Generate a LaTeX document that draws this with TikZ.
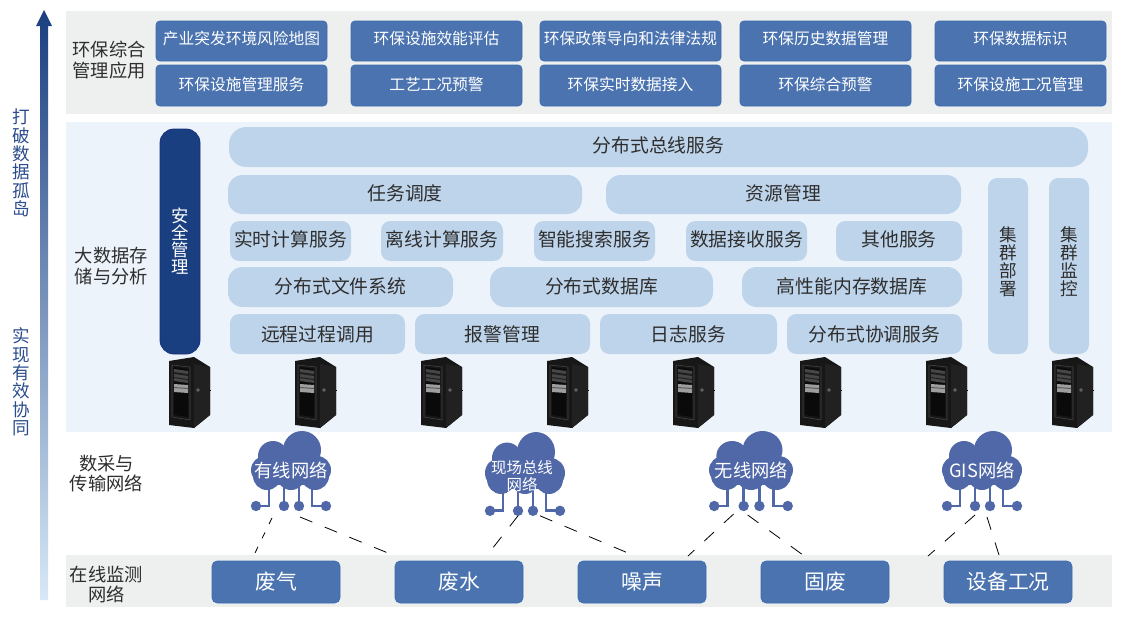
\documentclass[tikz,border=0pt]{standalone}
\usepackage{fontspec}
\setmainfont{Noto Sans CJK SC}
\usetikzlibrary{calc}
\definecolor{bandgray}{HTML}{EEEFEF}
\definecolor{bandblue}{HTML}{ECF3FB}
\definecolor{boxblue}{HTML}{4A73B0}
\definecolor{boxedge}{HTML}{3E6DB0}
\definecolor{paleblue}{HTML}{BED4EB}
\definecolor{navy}{HTML}{1A3F80}
\definecolor{navyedge}{HTML}{16307A}
\definecolor{cloudblue}{HTML}{5068A8}
\definecolor{sidetext}{HTML}{2A4C8C}
\definecolor{arrowend}{HTML}{D8E8F6}
\definecolor{arrowmid}{HTML}{7388B6}
\newcommand{\fsa}{\fontsize{11.8pt}{14pt}\selectfont}
\newcommand{\fsb}{\fontsize{14.1pt}{15pt}\selectfont}
\newcommand{\fsc}{\fontsize{15.6pt}{18pt}\selectfont}
\newcommand{\fsd}{\fontsize{13.7pt}{15.7pt}\selectfont}
\newcommand{\fse}{\fontsize{11.6pt}{12.8pt}\selectfont}
\newcommand{\fsv}{\fontsize{13.2pt}{13.75pt}\selectfont}
\newcommand{\upa}[1]{\raisebox{0.3pt}[10pt][2pt]{#1}}
\newcommand{\upb}[1]{\raisebox{1.5pt}[10pt][2pt]{#1}}
\newcommand{\upc}[1]{\raisebox{-0.5pt}[10pt][2pt]{#1}}
\newcommand{\upd}[1]{\raisebox{0pt}[10pt][2pt]{#1}}
% \bx[style]{name}{x1}{y1}{x2}{y2}{text}
\newcommand{\bx}[7][]{%
  \pgfmathsetmacro{\bw}{(#5-#3)*0.75}\pgfmathsetmacro{\bh}{(#6-#4)*0.75}%
  \node[#1,minimum width=\bw pt,minimum height=\bh pt] (#2) at ({(#3+#5)/2},{(#4+#6)/2}) {#7};}
\tikzset{
  x=0.75pt,y=-0.75pt,
  band/.style={inner sep=0pt,outer sep=0pt,draw=none},
  appbox/.style={inner sep=0pt,fill=boxblue,draw=boxedge,line width=0.6pt,rounded corners=3pt,text=white,font=\fsa},
  srcbox/.style={inner sep=0pt,fill=boxblue,draw=boxedge,line width=0.6pt,rounded corners=4pt,text=white,font=\fsc},
  palebox/.style={inner sep=0pt,fill=paleblue,text=black!82,font=\fsb},
  rsmall/.style={palebox,rounded corners=7pt},
  rmid/.style={palebox,rounded corners=11pt},
  rbig/.style={palebox,rounded corners=13pt},
  lab/.style={align=center,text=black!82,font=\fsd},
  sidelab/.style={align=center,text=sidetext,font=\fsv},
  foot/.style={circle,fill=cloudblue,inner sep=0pt,minimum size=7.8pt},
  wire/.style={draw=cloudblue,line width=2.2pt},
  dashline/.style={black,line width=0.6pt,dash pattern=on 10pt off 10pt},
  dashshort/.style={black,line width=0.6pt,dash pattern=on 5pt off 7pt},
  server/.pic={
    \fill[black!91] (-20,4) -- (5,0) -- (21,10) -- (21,58) -- (5,71) -- (-20,68) -- cycle;
    \fill[black!87] (5,7) -- (21,10) -- (21,58) -- (5,71) -- cycle;
    \draw[black!72,line width=0.4pt] (-17,8) -- (1,10) -- (1,63) -- (-17,60) -- cycle;
    \fill[black!96] (-15,10) -- (-1,12) -- (-1,60) -- (-15,58) -- cycle;
    \fill[black!72] (-15,12) -- (-1,14) -- (-1,26) -- (-15,24) -- cycle;
    \fill[black!88] (-15,15) -- (-1,17) -- (-1,19) -- (-15,17) -- cycle;
    \fill[black!88] (-15,20) -- (-1,22) -- (-1,23) -- (-15,21) -- cycle;
    \fill[black!38] (-15,27) -- (-1,28) -- (-1,36) -- (-15,35) -- cycle;
    \fill[black!65] (-15,30) -- (-1,31) -- (-1,32) -- (-15,31) -- cycle;
    \fill[black!25] (9,33) circle (1.6);
    \fill[black] (9,33) circle (0.9);
    \fill[black!98] (21,33) rectangle (22.2,33.6);
  },
  cloudpic/.pic={
    \fill[cloudblue] (11,-20) circle (19);
    \fill[cloudblue] (-18,-14) circle (15);
    \fill[cloudblue] (-26,0) circle (14);
    \fill[cloudblue] (26,0) circle (14);
    \fill[cloudblue] (-24,6) circle (14);
    \fill[cloudblue] (0,6) circle (14);
    \fill[cloudblue] (24,6) circle (14);
    \fill[cloudblue] (-26,-8) rectangle (26,15);
    \draw[wire] (-22,12) -- (-22,36) -- (-35,36);
    \draw[wire] (-7,12) -- (-7,36);
    \draw[wire] (8,12) -- (8,36);
    \draw[wire] (21,12) -- (21,36) -- (35,36);
    \node[foot] (f1) at (-35,36) {};
    \node[foot] (f2) at (-7,36) {};
    \node[foot] (f3) at (8,36) {};
    \node[foot] (f4) at (35,36) {};
  }
}
\begin{document}
\begin{tikzpicture}
\useasboundingbox (0,0) rectangle (1136,628);
\fill[white] (0,0) rectangle (1136,628);
% bands
\bx[band,fill=bandgray]{bandA}{66}{11}{1112}{114}{}
\bx[band,fill=bandblue]{bandB}{66}{122}{1112}{432}{}
\bx[band,fill=bandgray]{bandC}{66}{555}{1112}{607}{}
% arrow
\shade[top color=navy,middle color=arrowmid,bottom color=arrowend]
  (40,600) -- (40,26) -- (36,26) -- (44,10) -- (52,26) -- (48,26) -- (48,600) -- cycle;
% side text
\node[sidelab] (sideA) at (21,163) {打\\破\\数\\据\\孤\\岛};
\node[sidelab] (sideB) at (21,382) {实\\现\\有\\效\\协\\同};
% layer labels
\node[lab] (labA) at (109,60.5) {环保综合\\管理应用};
\node[lab] (labB) at (111.5,266.5) {大数据存\\储与分析};
\node[lab,font=\fontsize{13.7pt}{15pt}\selectfont] (labC) at (106.5,473.5) {数采与\\传输网络};
\node[lab,font=\fontsize{13.7pt}{15pt}\selectfont] (labD) at (106.5,585) {在线监测\\网络};
% application boxes
\bx[appbox]{a1}{156}{21}{327}{61}{\upb{产业突发环境风险地图}}
\bx[appbox]{a2}{351}{21}{522}{61}{\upb{环保设施效能评估}}
\bx[appbox]{a3}{540}{21}{721}{61}{\upb{环保政策导向和法律法规}}
\bx[appbox]{a4}{740}{21}{911}{61}{\upb{环保历史数据管理}}
\bx[appbox]{a5}{935}{21}{1106}{61}{\upb{环保数据标识}}
\bx[appbox]{b1}{156}{65}{327}{106}{\upa{环保设施管理服务}}
\bx[appbox]{b2}{351}{65}{522}{106}{\upa{工艺工况预警}}
\bx[appbox]{b3}{540}{65}{721}{106}{\upa{环保实时数据接入}}
\bx[appbox]{b4}{740}{65}{911}{106}{\upa{环保综合预警}}
\bx[appbox]{b5}{935}{65}{1106}{106}{\upa{环保设施工况管理}}
% big-data layer
\bx[fill=navy,draw=navyedge,line width=0.6pt,rounded corners=10.5pt,inner sep=0pt]{sec}{160}{129}{200}{354}{}
\node[text=white,align=center,font=\fontsize{13pt}{12.8pt}\selectfont] (sect) at (180,241) {安\\全\\管\\理};
\bx[rbig]{bus}{229}{127}{1088}{167}{\upd{分布式总线服务}}
\bx[rmid]{sched}{228}{175}{582}{214}{\upc{任务调度}}
\bx[rmid]{res}{606}{175}{961}{214}{\upc{资源管理}}
\bx[rsmall]{s1}{230}{221}{351}{261}{\upd{实时计算服务}}
\bx[rsmall]{s2}{381}{221}{503}{261}{\upd{离线计算服务}}
\bx[rsmall]{s3}{534}{221}{655}{261}{\upd{智能搜索服务}}
\bx[rsmall]{s4}{686}{221}{807}{261}{\upd{数据接收服务}}
\bx[rsmall]{s5}{836}{221}{962}{261}{\upd{其他服务}}
\bx[rmid]{d1}{228}{267}{453}{307}{\upc{分布式文件系统}}
\bx[rmid]{d2}{490}{267}{713}{307}{\upc{分布式数据库}}
\bx[rmid]{d3}{742}{267}{962}{307}{\upc{高性能内存数据库}}
\bx[rsmall]{u1}{230}{314}{405}{354}{远程过程调用}
\bx[rsmall]{u2}{415}{314}{590}{354}{报警管理}
\bx[rsmall]{u3}{600}{314}{777}{354}{日志服务}
\bx[rsmall]{u4}{787}{314}{962}{354}{分布式协调服务}
\bx[rsmall]{dep}{988}{178}{1028}{354}{}
\bx[rsmall]{mon}{1049}{178}{1089}{354}{}
\node[align=center,text=black!82,font=\fontsize{13.2pt}{13.6pt}\selectfont] (dept) at (1008,262) {集\\群\\部\\署};
\node[align=center,text=black!82,font=\fontsize{13.2pt}{13.6pt}\selectfont] (mont) at (1069,262) {集\\群\\监\\控};
% servers
\foreach \sx in {189,315,441,567,693,820,946,1072}{\pic at (\sx,357) {server};}
% clouds
\pic (c1) at (291,470) {cloudpic};
\pic[yscale=1.05] (c2) at (525,473) {cloudpic};
\pic[xscale=1.05] (c3) at (751,470) {cloudpic};
\pic (c4) at (982,470) {cloudpic};
\node[text=white,font=\fsd] (t1) at (291,470) {有线网络};
\node[text=white,align=center,font=\fse] (t2) at (522,476) {现场总线\\网络};
\node[text=white,font=\fsd] (t3) at (751.5,470) {无线网络};
\node[text=white,font=\fsd] (t4) at (982,470) {GIS网络};
% source boxes
\bx[srcbox]{w1}{212}{561}{340}{603}{废气}
\bx[srcbox]{w2}{395}{561}{523}{603}{废水}
\bx[srcbox]{w3}{578}{561}{706}{603}{噪声}
\bx[srcbox]{w4}{761}{561}{889}{603}{固废}
\bx[srcbox]{w5}{944}{561}{1072}{603}{设备工况}
% connector ends
\coordinate (e1) at (254,555);
\coordinate (e2) at (388,553);
\coordinate (e3) at (492,549);
\coordinate (e4) at (628,553);
\coordinate (e5) at (688,556);
\coordinate (e6) at (803,555);
\coordinate (e7) at (928,556);
\coordinate (e8) at (999,555);
\draw[dashshort] ($(c1f2)+(-12,12)$) -- (e1);
\draw[dashline] ($(c1f2)+(16,11)$) -- (e2);
\draw[dashline] ($(c2f2)+(0,5)$) -- (e3);
\draw[dashline] ($(c2f3)+(7,5)$) -- (e4);
\draw[dashline] ($(c3f2)+(-10,8)$) -- (e5);
\draw[dashline] ($(c3f2)+(4,9)$) -- (e6);
\draw[dashline] ($(c4f2)+(0,9)$) -- (e7);
\draw[dashline] ($(c4f3)+(-3,11)$) -- (e8);
\end{tikzpicture}
\end{document}
